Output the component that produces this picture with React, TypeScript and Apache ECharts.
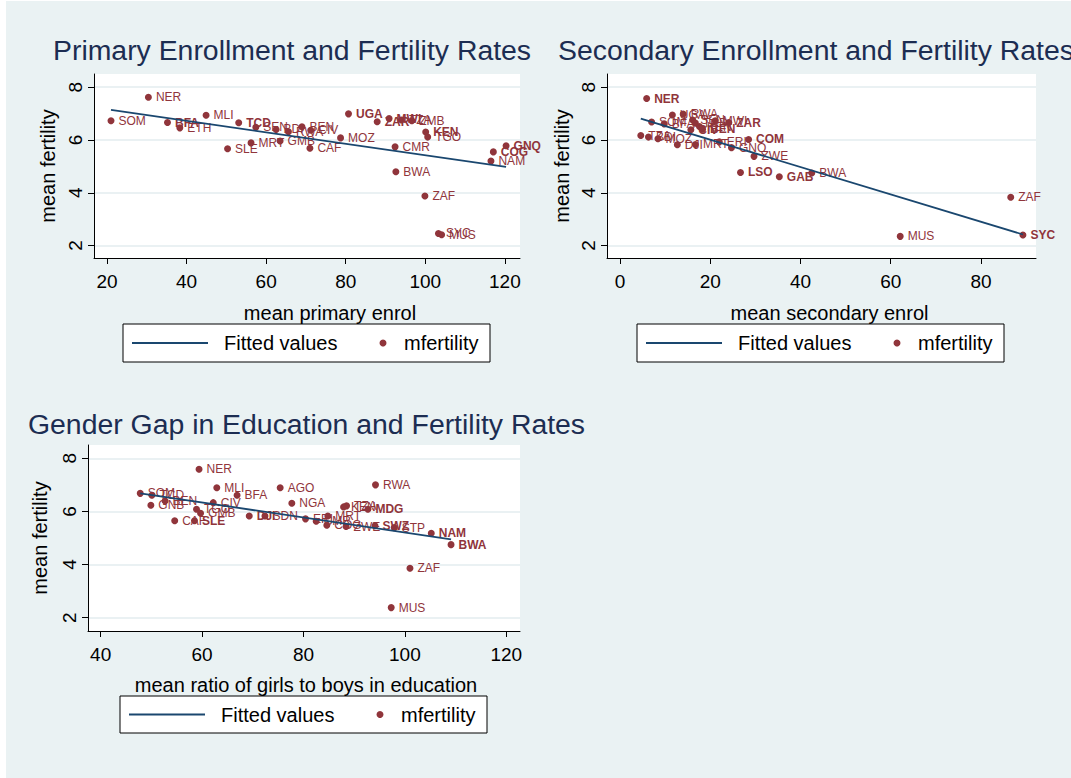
import React, { useEffect, useRef } from "react";
import * as echarts from "echarts";

const FONT = "'Liberation Sans', Arial, Helvetica, sans-serif";
const MAROON = "#90353b";
const NAVY = "#1a476f";
const TITLE_COLOR = "#1c2d52";
const BG = "#eaf2f3";
const GRIDLINE = "#e3ecef";

// page offset of the chart canvas (grey graph region)
const OX = 6;
const OY = 1;

// ---------- Panel 1: primary enrolment ----------
const primaryCountries = ["SOM", "NER", "BFA", "ETH", "MLI", "TCD", "SEN", "BDI", "RWA", "BEN", "CIV", "GMB", "MRT", "SLE", "CAF", "MOZ", "UGA", "ZAR", "MWI", "TZA", "ZMB", "KEN", "TGO", "CMR", "BWA", "ZAF", "SYC", "MUS", "GNQ", "COG", "NAM"];
const primaryEnrol = [21.0, 30.4, 35.2, 38.3, 44.9, 53.1, 57.4, 62.5, 65.6, 69.0, 71.2, 63.5, 56.2, 50.3, 71.0, 78.7, 80.7, 87.9, 90.9, 94.0, 96.6, 100.1, 100.6, 92.4, 92.6, 99.9, 103.3, 104.1, 120.3, 117.1, 116.5];
const primaryFertility = [6.73, 7.62, 6.66, 6.46, 6.94, 6.65, 6.48, 6.40, 6.31, 6.50, 6.37, 5.96, 5.89, 5.67, 5.69, 6.08, 6.99, 6.69, 6.81, 6.76, 6.73, 6.30, 6.11, 5.74, 4.80, 3.88, 2.46, 2.41, 5.78, 5.55, 5.20];
const primaryBold = ["BFA", "TCD", "UGA", "ZAR", "MWI", "KEN", "GNQ", "COG"];
const primaryFitX = [21.0, 120.3];
const primaryFitY = [7.14, 4.98];

// ---------- Panel 2: secondary enrolment ----------
const secondaryCountries = ["NER", "UGA", "RWA", "SOM", "BFA", "SEN", "TCD", "KEN", "CIV", "BEN", "MWI", "ZAR", "TZA", "BDI", "MOZ", "DJI", "MRT", "ERI", "GNQ", "COM", "ZWE", "LSO", "GAB", "BWA", "MUS", "ZAF", "SYC"];
const secondaryEnrol = [5.9, 11.6, 14.0, 7.0, 9.8, 16.1, 16.7, 17.6, 15.7, 18.3, 21.1, 24.1, 4.6, 6.3, 8.4, 12.7, 16.7, 22.0, 24.7, 28.5, 29.7, 26.7, 35.3, 42.5, 62.1, 86.6, 89.3];
const secondaryFertility = [7.57, 6.95, 6.98, 6.68, 6.61, 6.76, 6.64, 6.51, 6.39, 6.41, 6.73, 6.66, 6.17, 6.11, 6.05, 5.82, 5.83, 5.93, 5.71, 6.02, 5.38, 4.77, 4.61, 4.75, 2.35, 3.83, 2.40];
const secondaryBold = ["NER", "ZAR", "CIV", "BEN", "COM", "LSO", "GAB", "SYC"];
const secondaryFitX = [4.6, 89.3];
const secondaryFitY = [6.81, 2.42];

// ---------- Panel 3: gender gap ----------
const genderCountries = ["NER", "MLI", "BFA", "AGO", "RWA", "SOM", "TCD", "GNB", "BEN", "CIV", "TGO", "GMB", "CAF", "SLE", "DJI", "SDN", "NGA", "ERI", "CMR", "MRT", "COG", "TZA", "KEN", "ZWE", "MDG", "SWZ", "STP", "NAM", "BWA", "ZAF", "MUS"];
const genderRatio = [59.4, 62.9, 66.9, 75.4, 94.2, 47.8, 50.1, 49.9, 52.7, 62.2, 58.9, 59.7, 54.6, 58.5, 69.3, 72.4, 77.7, 80.4, 82.5, 84.8, 84.6, 88.5, 87.9, 88.4, 92.7, 94.1, 97.9, 105.2, 109.1, 101.0, 97.3];
const genderFertility = [7.59, 6.89, 6.61, 6.89, 7.00, 6.68, 6.61, 6.23, 6.39, 6.33, 6.08, 5.93, 5.65, 5.65, 5.83, 5.83, 6.31, 5.72, 5.63, 5.83, 5.48, 6.21, 6.17, 5.43, 6.08, 5.46, 5.39, 5.18, 4.75, 3.86, 2.38];
const genderBold = ["SLE", "DJI", "MDG", "SWZ", "NAM", "BWA"];
const genderFitX = [47.8, 109.1];
const genderFitY = [6.68, 4.95];

const yTicks = [2, 4, 6, 8];
const primaryTicks = [20, 40, 60, 80, 100, 120];
const secondaryTicks = [0, 20, 40, 60, 80];
const genderTicks = [40, 60, 80, 100, 120];

const titles = [
  "Primary Enrollment and Fertility Rates",
  "Secondary Enrollment and Fertility Rates",
  "Gender Gap in Education and Fertility Rates",
];
const xTitles = ["mean primary enrol", "mean secondary enrol", "mean ratio of girls to boys in education"];
const yTitle = "mean fertility";
const legendLabels = ["Fitted values", "mfertility"];

function scatterData(names: string[], xs: number[], ys: number[], bold: string[]) {
  return names.map((n, i) => ({
    name: n,
    value: [xs[i], ys[i]],
    label: bold.includes(n) ? { fontWeight: "bold" } : undefined,
  }));
}

function xAxisCfg(gridIndex: number, min: number, max: number, ticks: number[], name: string, shift: number, gap: number) {
  return {
    type: "value",
    gridIndex,
    min,
    max,
    axisLine: { show: true, onZero: false, lineStyle: { color: "#000", width: 1 } },
    axisTick: { show: true, length: 6, customValues: ticks, lineStyle: { color: "#000", width: 1 } },
    axisLabel: { customValues: ticks, color: "#000", fontSize: 19, fontFamily: FONT, margin: 14 },
    splitLine: { show: false },
    name,
    nameLocation: "middle",
    nameGap: gap,
    nameTextStyle: { fontSize: 20, color: "#000", fontFamily: FONT, padding: [0, 0, 0, shift * 2] },
  };
}

function yAxisCfg(gridIndex: number, min: number, max: number, gap: number) {
  return {
    type: "value",
    gridIndex,
    min,
    max,
    axisLine: { show: true, onZero: false, lineStyle: { color: "#000", width: 1 } },
    axisTick: { show: true, length: 6, customValues: yTicks, lineStyle: { color: "#000", width: 1 } },
    axisLabel: { customValues: yTicks, rotate: 90, color: "#000", fontSize: 19, fontFamily: FONT, margin: 9 },
    splitLine: { show: true, lineStyle: { color: GRIDLINE, width: 1.5 } },
    name: yTitle,
    nameLocation: "middle",
    nameRotate: 90,
    nameGap: gap,
    nameTextStyle: { fontSize: 20, color: "#000", fontFamily: FONT },
  };
}

function legendGraphic(bx: number, by: number, h: number) {
  const x = bx - OX;
  const y = by - OY;
  const cy = y + h / 2;
  return [
    { type: "rect", shape: { x, y, width: 367, height: h }, style: { fill: "#fff", stroke: "#000", lineWidth: 1 } },
    { type: "line", shape: { x1: x + 9, y1: cy, x2: x + 85, y2: cy }, style: { stroke: NAVY, lineWidth: 2 } },
    { type: "text", style: { text: legendLabels[0], x: x + 101, y: cy, fill: "#000", fontSize: 20, fontFamily: FONT, verticalAlign: "middle", align: "left" } },
    { type: "circle", shape: { cx: x + 260, cy, r: 3.5 }, style: { fill: MAROON } },
    { type: "text", style: { text: legendLabels[1], x: x + 281, y: cy, fill: "#000", fontSize: 20, fontFamily: FONT, verticalAlign: "middle", align: "left" } },
  ];
}

const scatterLabel = {
  show: true,
  position: "right",
  distance: 4,
  formatter: "{b}",
  color: MAROON,
  fontSize: 12,
  fontFamily: FONT,
};

const titleStyle = { fontSize: 28.4, fontWeight: "normal", color: TITLE_COLOR, fontFamily: FONT };

export default function App() {
  const ref = useRef<HTMLDivElement>(null);
  useEffect(() => {
    if (!ref.current) return;
    const chart = echarts.init(ref.current, undefined, { renderer: "svg" });
    const grids = [
      { l: 94, t: 74, r: 520, b: 258 },
      { l: 607, t: 74, r: 1036, b: 258 },
      { l: 88, t: 445, r: 520, b: 631 },
    ];
    const option: any = {
      animation: false,
      backgroundColor: "transparent",
      textStyle: { fontFamily: FONT },
      title: [
        { text: titles[0], left: 53 - OX, top: 36 - OY, padding: 0, textStyle: titleStyle },
        { text: titles[1], left: 558 - OX, top: 36 - OY, padding: 0, textStyle: titleStyle },
        { text: titles[2], left: 28 - OX, top: 410 - OY, padding: 0, textStyle: titleStyle },
      ],
      grid: grids.map((g) => ({
        left: g.l - OX,
        top: g.t - OY,
        width: g.r - g.l,
        height: g.b - g.t,
        show: true,
        backgroundColor: "#fff",
        borderWidth: 0,
        containLabel: false,
      })),
      xAxis: [
        xAxisCfg(0, 16.73, 123.8, primaryTicks, xTitles[0], 23, 45),
        xAxisCfg(1, -2.89, 92.2, secondaryTicks, xTitles[1], 8, 45),
        xAxisCfg(2, 37.5, 122.7, genderTicks, xTitles[2], 2, 44),
      ],
      yAxis: [yAxisCfg(0, 1.53, 8.5, 36), yAxisCfg(1, 1.53, 8.5, 35), yAxisCfg(2, 1.5, 8.5, 38)],
      series: [
        { type: "line", name: legendLabels[0], xAxisIndex: 0, yAxisIndex: 0, data: primaryFitX.map((x, i) => [x, primaryFitY[i]]), symbol: "none", lineStyle: { color: NAVY, width: 1.8 }, silent: true, z: 3 },
        { type: "scatter", name: legendLabels[1], xAxisIndex: 0, yAxisIndex: 0, data: scatterData(primaryCountries, primaryEnrol, primaryFertility, primaryBold), symbolSize: 7, itemStyle: { color: MAROON, opacity: 1 }, label: scatterLabel, z: 2 },
        { type: "line", name: legendLabels[0], xAxisIndex: 1, yAxisIndex: 1, data: secondaryFitX.map((x, i) => [x, secondaryFitY[i]]), symbol: "none", lineStyle: { color: NAVY, width: 1.8 }, silent: true, z: 3 },
        { type: "scatter", name: legendLabels[1], xAxisIndex: 1, yAxisIndex: 1, data: scatterData(secondaryCountries, secondaryEnrol, secondaryFertility, secondaryBold), symbolSize: 7, itemStyle: { color: MAROON, opacity: 1 }, label: scatterLabel, z: 2 },
        { type: "line", name: legendLabels[0], xAxisIndex: 2, yAxisIndex: 2, data: genderFitX.map((x, i) => [x, genderFitY[i]]), symbol: "none", lineStyle: { color: NAVY, width: 1.8 }, silent: true, z: 3 },
        { type: "scatter", name: legendLabels[1], xAxisIndex: 2, yAxisIndex: 2, data: scatterData(genderCountries, genderRatio, genderFertility, genderBold), symbolSize: 7, itemStyle: { color: MAROON, opacity: 1 }, label: scatterLabel, z: 2 },
      ],
      graphic: [
        ...legendGraphic(123, 324, 38),
        ...legendGraphic(637, 324, 38),
        ...legendGraphic(120, 696, 37),
      ],
    };
    chart.setOption(option);
    return () => chart.dispose();
  }, []);

  return (
    <div style={{ position: "absolute", left: 0, top: 0, width: 1071, height: 778, background: "#fff", overflow: "hidden" }}>
      <div style={{ position: "absolute", left: OX, top: OY, width: 1071 - OX, height: 778 - OY, background: BG }}>
        <div ref={ref} style={{ width: 1071 - OX, height: 778 - OY }} />
      </div>
    </div>
  );
}
